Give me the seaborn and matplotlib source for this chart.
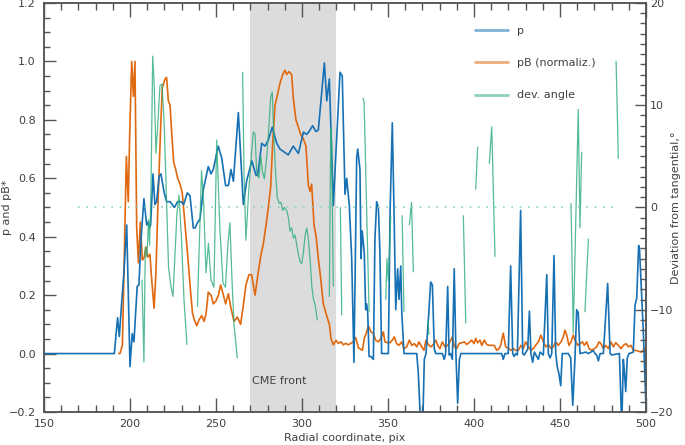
import numpy as np
import pandas as pd
import seaborn as sns
import matplotlib
matplotlib.use("Agg")
import matplotlib.pyplot as plt
import matplotlib.ticker as ticker
from matplotlib.lines import Line2D

# ---------------- data ----------------
# p (left axis)
p_x = [150, 190.9, 192.8, 193.8, 195.2, 196.5, 198.1, 200.0, 201.3, 202.3, 204.2, 205.2, 206.4,
       208.1, 209.7, 210.6, 211.2, 212.0, 213.4, 214.5, 215.5, 216.9, 218.0, 219.9, 221.3,
       223.3, 225.8, 227.7, 229.7, 231.2, 233.3, 234.9, 236.8, 237.8, 239.4, 240.7, 242.6,
       245.5, 247.1, 248.4, 251.3, 253.3, 255.6, 257.2, 258.7, 260.1, 263.0, 265.9, 267.8,
       270.8, 273.3, 274.2, 276.6, 278.5, 280.4, 282.7, 285.3, 287.2, 292.0, 294.9, 297.9,
       300.8, 302.7, 304.1, 306.2, 308.1, 309.5, 313.0, 314.4, 315.9, 318.2, 322.1, 323.4,
       325.0, 326.0, 327.5, 328.9, 330.2, 331.8, 332.4, 333.7, 334.3, 335.0, 336.2, 337.0,
       337.6, 338.2, 339.0, 340.1, 341.5, 342.4, 343.4, 344.4, 345.3, 346.3, 350.2, 351.2,
       352.5, 353.5, 354.5, 355.6, 356.4, 357.4, 358.0, 359.3, 366.7, 367.6, 369.0, 370.2,
       371.1, 372.1, 373.4, 374.8, 375.8, 376.9, 377.7, 381.6, 382.7, 383.5, 384.7, 385.5,
       386.4, 387.4, 388.5, 389.5, 390.5, 391.5, 392.4, 416.1, 417.0, 418.0, 419.9, 421.3,
       422.5, 423.3, 424.2, 425.2, 427.1, 428.3, 429.2, 430.2, 431.2, 432.2, 433.1, 434.1,
       435.1, 436.0, 437.4, 438.4, 440.3, 442.3, 443.2, 444.2, 445.2, 446.5, 447.5, 448.4,
       449.4, 450.4, 451.3, 454.8, 456.2, 457.4, 458.7, 459.7, 460.6, 461.6, 465.1, 466.5,
       469.4, 470.3, 471.3, 472.3, 473.3, 475.2, 477.7, 479.1, 480.0, 484.5, 485.9, 486.8,
       487.4, 488.2, 489.1, 490.1, 492.6, 493.6, 494.6, 495.7, 496.2, 498.4, 500.0]
p_val = [0, 0, .123, .058, .178, .28, .44, -.045, .068, .04, .23, .235, .39,
         .53, .44, .45, .43, .44, .615, .51, .52, .605, .615, .55, .52,
         .52, .50, .52, .52, .51, .55, .54, .43, .43, .45, .46, .56,
         .64, .615, .63, .71, .67, .575, .575, .63, .59, .825, .51, .59,
         .66, .61, .61, .72, .71, .73, .775, .72, .70, .68, .71, .685,
         .758, .75, .76, .78, .76, .765, .995, .865, .94, .507, .963, .95,
         .545, .60, .507, .325, -.03, .67, .70, .63, .325, .42, .345, .15,
         .17, .14, -.01, -.01, -.02, .39, .52, .50, .345, 0, 0, .485,
         .79, .485, .15, .29, .185, .30, .14, 0, 0, -.065, -.25, -.25,
         -.02, 0, .11, .245, .235, .017, 0, 0, -.02, 0, .23, -.005,
         0, -.02, .29, -.005, -.17, -.02, 0, 0, -.02, 0, 0, .30,
         0, -.01, 0, -.005, .49, 0, -.005, .005, .015, .145, 0, -.03,
         .005, -.005, -.02, .005, -.005, .27, 0, -.015, 0, .335, 0, -.045,
         -.07, -.11, 0, 0, -.015, -.177, -.015, .15, .14, 0, .005, 0,
         .01, 0, -.005, -.025, 0, 0, .24, 0, -.005, 0, -.25, -.02,
         -.06, -.13, -.015, 0, .005, .165, .19, .37, .36, .08, -.19]

# pB normalized (left axis)
pb_x = [193.5, 194.2, 195.6, 196.5, 197.9, 199.0, 199.8, 201.0, 202.0, 202.9, 203.9, 204.9,
        206.0, 207.2, 208.3, 209.3, 210.3, 211.6, 212.6, 214.0, 215.1, 216.1, 217.1, 218.0,
        218.8, 220.4, 221.3, 222.3, 223.3, 224.2, 225.4, 226.6, 227.7, 229.1, 230.4, 232.0,
        233.5, 234.9, 236.3, 237.4, 238.8, 240.1, 241.7, 243.0, 244.2, 245.5, 247.1, 248.5,
        250.0, 251.4, 252.7, 254.3, 255.6, 257.2, 258.7, 260.5, 262.4, 264.3, 265.9, 267.4,
        269.2, 270.7, 272.7, 274.6, 276.2, 277.5, 279.1, 280.4, 281.8, 282.9, 284.3, 285.9,
        287.2, 288.8, 290.1, 291.1, 292.4, 294.0, 295.0, 296.5, 297.9, 299.2, 300.8, 302.3,
        303.7, 304.7, 305.6, 307.0, 308.1, 309.5, 310.9, 312.4, 314.3, 315.9, 316.9, 318.2,
        319.8, 321.1, 322.7, 324.0, 325.4, 326.9, 329.8, 331.2, 332.8, 335.1, 336.2, 337.6,
        338.6, 340.1, 341.5, 342.8, 344.4, 345.9, 347.3, 348.2, 349.8, 351.2, 352.5, 353.7,
        355.0, 356.4, 357.9, 359.3, 360.9, 362.4, 363.8, 365.3, 366.7, 368.0, 369.6, 370.9,
        372.1, 373.4, 375.0, 376.4, 377.7, 378.9, 380.2, 381.6, 383.1, 384.7, 386.0, 387.4,
        388.6, 389.9, 391.3, 392.8, 394.4, 395.7, 397.1, 398.6, 400.0, 401.0, 402.1, 403.5,
        404.5, 406.0, 407.4, 408.7, 411.8, 413.2, 414.5, 415.5, 417.0, 418.4, 419.9, 421.5,
        422.9, 424.2, 425.8, 427.3, 428.7, 430.0, 431.6, 433.1, 434.5, 435.8, 437.4, 438.9,
        440.3, 441.7, 443.2, 444.8, 446.1, 447.5, 449.0, 450.6, 451.9, 452.9, 453.9, 455.2,
        456.4, 457.7, 458.7, 460.3, 461.6, 463.0, 464.1, 465.5, 466.9, 468.4, 470.0, 471.3,
        472.7, 473.8, 475.2, 476.5, 478.1, 479.6, 481.0, 482.4, 483.9, 485.5, 486.8, 488.4,
        489.7, 491.3, 492.6, 494.0, 495.5, 497.5, 500.0]
pb_val = [0, 0, .03, .28, .675, .52, .74, 1.0, .88, 1.0, .43, .31,
          .45, .32, .33, .365, .33, .34, .255, .155, .28, .48, .655, .80,
          .91, .94, .945, .865, .85, .76, .655, .63, .60, .58, .55, .44,
          .34, .235, .14, .115, .095, .115, .13, .11, .135, .21, .20, .17,
          .18, .20, .235, .20, .17, .205, .155, .11, .125, .10, .165, .235,
          .27, .27, .20, .28, .34, .375, .44, .50, .57, .715, .85, .89,
          .925, .955, .97, .955, .965, .955, .87, .80, .775, .75, .735, .71,
          .575, .555, .58, .44, .405, .325, .255, .17, .13, .10, .05, .03,
          .045, .035, .04, .03, .035, .03, .04, .055, .02, .011, .052, .074,
          .095, .074, .068, .046, .04, .052, .074, .04, .037, .037, .046, .057,
          .034, .028, .04, .017, .023, .046, .028, .034, .023, .04, .023, .011,
          .046, .031, .023, .031, .046, .028, .017, .04, .023, .028, .04, .057,
          .023, .017, .034, .037, .04, .031, .037, .046, .034, .052, .037, .046,
          .028, .046, .031, .028, .028, .011, .017, .028, .07, .023, .017, .011,
          .017, .011, .011, .028, .017, .04, .023, .011, .017, .028, .04, .063,
          .04, .023, .031, .017, .023, .04, .028, .04, .057, .08, .063, .028,
          .04, .063, .046, .028, .034, .04, .028, .04, .017, .011, .017, .023,
          .04, .034, .017, .028, .017, .04, .023, .037, .028, .017, .028, .034,
          .023, .028, .011, .011, .008, .005, .025]

# deviation angle (right axis, degrees); NaN separates the pieces
dev_x = [207.0, 208.1, 208.9, 209.8, 210.8, 211.4, 212.2, 213.2, 214.0, 215.1, 216.3, 217.4,
         218.6, 219.8, 220.9, 222.4, 223.8, 225.0, 226.2, 227.3, 228.5, 229.9, 231.4, 233.1, np.nan,
         239.2, 241.6, 242.7, 244.2, 245.6, 247.1, 248.8, 250.4, 252.3, 254.1, 255.5, 257.0,
         258.1, 259.3, 260.5, 262.4, np.nan,
         265.5, 266.3, 267.4, 268.8, 270.2, 271.7, 272.7, 273.7, 275.0, 276.0, 277.0, 278.1,
         279.5, 280.8, 281.8, 282.7, 283.7, 284.7, 285.6, 286.8, 287.8, 288.8, 289.7, 291.1,
         292.1, 293.0, 294.0, 295.0, 296.0, 296.9, 297.9, 298.9, 299.8, 300.8, 301.8, 302.8,
         303.7, 304.7, 305.7, 306.7, 307.6, 308.9, np.nan,
         315.9, 316.7, 317.2, 318.2, np.nan,
         322.3, 323.1, np.nan,
         335.5, 336.1, 339.0, np.nan,
         348.7, 349.4, 350.2, 351.6, np.nan,
         358.2, 359.3, np.nan,
         362.4, 363.7, 364.7, np.nan,
         373.3, 373.8, np.nan,
         393.8, 395.2, np.nan,
         401.0, 402.1, np.nan,
         408.9, 410.3, 412.2, np.nan,
         456.4, 457.7, 460.6, 461.6, 462.6, np.nan,
         464.5, 466.5, np.nan,
         482.6, 483.9]
dev_deg = [-7.1, -15.1, -3.9, -4.8, -1.2, -3.7, 1.7, 14.8, 12.4, 5.3, 8.5, 11.9,
           12.1, 8.5, 2.7, -5.8, -7.7, -8.7, -4.5, -0.6, 1.2, -2.9, -9.0, -13.4, np.nan,
           -9.7, 3.6, 0.9, -6.4, -3.5, -7.1, -7.8, 6.6, -2.2, -7.4, -7.8, -3.5,
           -1.5, -7.1, -11.5, -14.7, np.nan,
           13.2, 3.3, -3.2, 1.0, 4.3, 7.4, 7.2, 3.3, 2.9, 5.1, 3.5, 2.8,
           4.9, 8.0, 10.8, 11.3, 6.6, 3.3, 1.0, 0.4, 0.5, -0.3, 0.0, -0.3,
           -1.0, -2.3, -2.0, -3.0, -2.7, -3.6, -4.6, -5.3, -5.5, -4.4, -2.7, -2.0,
           -3.1, -5.1, -7.7, -9.0, -9.5, -11.0, np.nan,
           -8.7, 7.8, 6.5, -7.7, np.nan,
           0.0, -10.5, np.nan,
           10.7, 10.3, -10.2, np.nan,
           -9.0, -5.0, -7.2, -0.8, np.nan,
           -0.8, -10.2, np.nan,
           -1.7, 0.5, -6.3, np.nan,
           -11.1, -12.4, np.nan,
           -0.8, -11.3, np.nan,
           1.8, 5.9, np.nan,
           4.3, 7.9, -4.8, np.nan,
           0.4, -12.3, 9.6, -2.0, 5.4, np.nan,
           -10.2, -3.1, np.nan,
           14.3, 4.8]

cme_front = (270, 320)
ref_deg = 0
ref_span = (170, 483)

# ---------------- styling ----------------
sns.set_style("ticks")
plt.rcParams["font.family"] = ["DejaVu Sans"]
plt.rcParams["axes.unicode_minus"] = True

c_p = "#1670b4"
c_pb = "#e0680f"
c_dev = "#2bab7c"
tcol = "#404040"

fig = plt.figure(figsize=(6.85, 4.45), dpi=100)
ax = fig.add_axes([0.0642, 0.0742, 0.8789, 0.9191])
ax2 = ax.twinx()

ax.axvspan(*cme_front, color="#dcdcdc", lw=0, zorder=0)

df_p = pd.DataFrame({"x": p_x, "y": p_val})
df_pb = pd.DataFrame({"x": pb_x, "y": pb_val})
sns.lineplot(data=df_pb, x="x", y="y", ax=ax, color=c_pb, lw=1.2,
             estimator=None, sort=False, legend=False, zorder=3)
sns.lineplot(data=df_p, x="x", y="y", ax=ax, color=c_p, lw=1.2,
             estimator=None, sort=False, legend=False, zorder=4)

df_dev = pd.DataFrame({"x": dev_x, "deg": dev_deg})
df_dev["seg"] = df_dev["x"].isna().cumsum()
df_dev = df_dev.dropna()
sns.lineplot(data=df_dev, x="x", y="deg", units="seg", ax=ax2, color=c_dev, lw=0.9,
             alpha=0.8, estimator=None, sort=False, legend=False)
ax2.hlines(ref_deg, *ref_span, colors="#8fd3bb", linestyles=(0, (1, 4)), lw=1.2)

ax.text(271, -0.095, "CME front", fontsize=8, color=tcol, va="center", ha="left")

# axes limits / ticks
ax.set_xlim(150, 500)
ax.set_ylim(-0.2, 1.2)
ax2.set_ylim(-20, 20)
ax.xaxis.set_major_locator(ticker.MultipleLocator(50))
ax.xaxis.set_minor_locator(ticker.MultipleLocator(10))
ax.yaxis.set_major_locator(ticker.MultipleLocator(0.2))
ax.yaxis.set_minor_locator(ticker.MultipleLocator(0.05))
ax.yaxis.set_major_formatter(ticker.FuncFormatter(lambda v, _: f"{v:.1f}".replace("-", "\u2212")))
ax2.yaxis.set_major_locator(ticker.MultipleLocator(10))
ax2.yaxis.set_minor_locator(ticker.MultipleLocator(1))
ax2.yaxis.set_major_formatter(ticker.FuncFormatter(lambda v, _: f"{v:.0f}".replace("-", "\u2212")))

ax.tick_params(axis="x", which="both", direction="in", top=True, colors="#555555",
               labelcolor=tcol, labelsize=8, pad=5)
ax.tick_params(axis="x", which="major", length=10, width=1)
ax.tick_params(axis="x", which="minor", length=5, width=1)
ax.tick_params(axis="y", which="both", direction="in", colors="#555555",
               labelcolor=tcol, labelsize=8, pad=6)
ax.tick_params(axis="y", which="major", length=8.5, width=1)
ax.tick_params(axis="y", which="minor", length=4.3, width=1)
ax2.tick_params(axis="y", which="both", direction="in", colors="#555555",
                labelcolor=tcol, labelsize=8, pad=3)
ax2.tick_params(axis="y", which="major", length=8, width=1)
ax2.tick_params(axis="y", which="minor", length=4.3, width=1)

for a in (ax, ax2):
    for s in a.spines.values():
        s.set_color("#555555")
        s.set_linewidth(1.1)

ax.set_xlabel("Radial coordinate, pix", fontsize=8, color=tcol, labelpad=3)
ax.set_ylabel("p and pB*", fontsize=8, color=tcol)
ax2.set_ylabel("Deviation from tangential,\u00b0", fontsize=8, color=tcol)
ax.yaxis.set_label_coords(-0.053, 0.5)
ax2.yaxis.set_label_coords(1.041, 0.5)

handles = [Line2D([], [], color=c_p, lw=2, alpha=0.55),
           Line2D([], [], color=c_pb, lw=2, alpha=0.55),
           Line2D([], [], color=c_dev, lw=2, alpha=0.55)]
leg = ax2.legend(handles, ["p", "pB (normaliz.)", "dev. angle"], loc="upper left",
                 bbox_to_anchor=(475 / 685, 1 - 26 / 445), bbox_transform=fig.transFigure,
                 frameon=False, fontsize=8, handlelength=3.0, handletextpad=0.8,
                 labelspacing=2.0, borderpad=0, borderaxespad=0)
for t in leg.get_texts():
    t.set_color(tcol)

fig.savefig("out.png", dpi=100)
